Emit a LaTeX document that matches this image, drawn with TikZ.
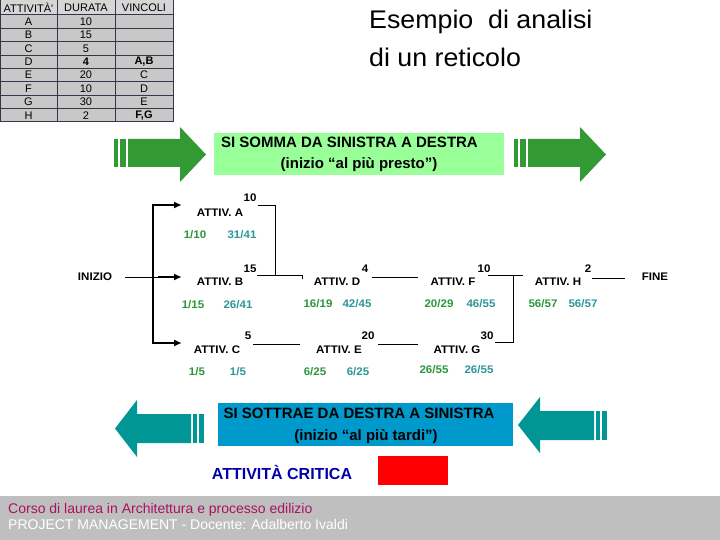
\documentclass[tikz,border=0pt]{standalone}
\usepackage{fontspec}
\setmainfont{Liberation Sans}
\newfontfamily\largo[FakeStretch=1.05]{Liberation Sans}
\usetikzlibrary{arrows.meta}
\definecolor{verdefreccia}{RGB}{51,153,51}
\definecolor{verdebox}{RGB}{153,255,153}
\definecolor{azzurro}{RGB}{0,153,204}
\definecolor{ottanio}{RGB}{0,150,150}
\definecolor{verdepresto}{RGB}{45,150,60}
\definecolor{verdetardi}{RGB}{45,150,150}
\definecolor{bordo}{RGB}{50,55,75}
\definecolor{grigiocella}{RGB}{200,200,200}
\definecolor{testata}{RGB}{214,214,214}
\definecolor{grigiopiede}{RGB}{191,191,191}
\definecolor{corso}{RGB}{170,17,100}
\definecolor{critico}{RGB}{0,0,170}

\begin{document}
\begin{tikzpicture}[x=1pt,y=-1pt,
  attiv/.style={font=\largo\bfseries\fontsize{11}{13}\selectfont,inner sep=0pt},
  durata/.style={attiv},
  presto/.style={attiv,text=verdepresto},
  tardi/.style={attiv,text=verdetardi},
  link/.style={draw,line width=0.9pt},
  forca/.style={line width=2pt,line join=miter},
  cella/.style={font=\fontsize{11}{13}\selectfont,inner sep=0pt},
  cellab/.style={font=\bfseries\fontsize{11}{13}\selectfont,inner sep=0pt},
  griglia/.style={draw=bordo,line width=1pt},
  scritta/.style={font=\bfseries\fontsize{15}{17}\selectfont,inner sep=0pt},
  piede/.style={font=\fontsize{14}{16}\selectfont,inner sep=0pt,anchor=west}]
 \fill[white] (0,0) rectangle (720,540);
 \useasboundingbox (0,0) rectangle (720,540);

 % tabella
 \fill[testata] (0,0) rectangle (173,15);
 \fill[grigiocella] (0,15) rectangle (173,122);
 \draw[griglia] (0,0) rectangle (173,122)
  (57,0) -- (57,122) (115,0) -- (115,122)
  (0,15) -- (173,15) (0,28.4) -- (173,28.4) (0,41.75) -- (173,41.75)
  (0,55.1) -- (173,55.1) (0,68.5) -- (173,68.5) (0,81.9) -- (173,81.9)
  (0,95.25) -- (173,95.25) (0,108.6) -- (173,108.6);
 \node (h1) at (28.5,7.5) [cella] {ATTIVIT\`A\textquotesingle};
 \node (h2) at (86,7.5) [cella] {DURATA};
 \node (h3) at (144,7.5) [cella] {VINCOLI};
 \node (attA) at (28.5,21.7) [cella] {A};
 \node (durA) at (86,21.7) [cella] {10};
 \node (attB) at (28.5,35.1) [cella] {B};
 \node (durB) at (86,35.1) [cella] {15};
 \node (attC) at (28.5,48.4) [cella] {C};
 \node (durC) at (86,48.4) [cella] {5};
 \node (attD) at (28.5,61.8) [cella] {D};
 \node (durD) at (86,61.8) [cellab] {4};
 \node (vinD) at (144,61.8) [cellab] {A,B};
 \node (attE) at (28.5,75.2) [cella] {E};
 \node (durE) at (86,75.2) [cella] {20};
 \node (vinE) at (144,75.2) [cella] {C};
 \node (attF) at (28.5,88.6) [cella] {F};
 \node (durF) at (86,88.6) [cella] {10};
 \node (vinF) at (144,88.6) [cella] {D};
 \node (attG) at (28.5,101.9) [cella] {G};
 \node (durG) at (86,101.9) [cella] {30};
 \node (vinG) at (144,101.9) [cella] {E};
 \node (attH) at (28.5,115.3) [cella] {H};
 \node (durH) at (86,115.3) [cella] {2};
 \node (vinH) at (144,115.3) [cellab] {F,G};

 % titolo
 \node (titolo1) at (369,22) [anchor=west,inner sep=0pt,font=\largo\fontsize{25.5}{29}\selectfont] {Esempio\ \ di analisi};
 \node (titolo2) at (369,57) [anchor=west,inner sep=0pt,font=\largo\fontsize{25.5}{29}\selectfont] {di un reticolo};

 % frecce verdi e riquadro
 \fill[verdefreccia] (114,139) rectangle (118,167);
 \fill[verdefreccia] (120,139) rectangle (126,167);
 \fill[verdefreccia] (128,139) -- (180,139) -- (180,127) -- (206,154.5) -- (180,182) -- (180,167) -- (128,167) -- cycle;
 \fill[verdefreccia] (514,139) rectangle (518,167);
 \fill[verdefreccia] (520,139) rectangle (526,167);
 \fill[verdefreccia] (528,139) -- (580,139) -- (580,127) -- (606,154.5) -- (580,182) -- (580,167) -- (528,167) -- cycle;
 \fill[verdebox] (214,133) rectangle (504,175);
 \node (somma1) at (349.5,142) [scritta] {SI SOMMA DA SINISTRA A DESTRA};
 \node (somma2) at (359,165) [scritta] {(inizio “al più presto”)};

 % reticolo
 \node (inizio) at (95,277) [attiv] {INIZIO};
 \node (a) at (220,213) [attiv] {ATTIV. A};
 \node (da) at (250,198) [durata] {10};
 \node (ea) at (195,235) [presto] {1/10};
 \node (la) at (242,235) [tardi] {31/41};
 \node (b) at (220,282) [attiv] {ATTIV. B};
 \node (db) at (250,269) [durata] {15};
 \node (eb) at (193,305) [presto] {1/15};
 \node (lb) at (238,305) [tardi] {26/41};
 \node (c) at (217,350) [attiv] {ATTIV. C};
 \node (dc) at (248,336) [durata] {5};
 \node (ec) at (197,372) [presto] {1/5};
 \node (lc) at (238,372) [tardi] {1/5};
 \node (d) at (337,282) [attiv] {ATTIV. D};
 \node (dd) at (365,269) [durata] {4};
 \node (ed) at (318,304) [presto] {16/19};
 \node (ld) at (357,304) [tardi] {42/45};
 \node (e) at (339,350) [attiv] {ATTIV. E};
 \node (de) at (368,336) [durata] {20};
 \node (ee) at (315,372) [presto] {6/25};
 \node (le) at (358,372) [tardi] {6/25};
 \node (f) at (453,282) [attiv] {ATTIV. F};
 \node (df) at (484,269) [durata] {10};
 \node (ef) at (439,304) [presto] {20/29};
 \node (lf) at (481,304) [tardi] {46/55};
 \node (g) at (457,350) [attiv] {ATTIV. G};
 \node (dg) at (487,336) [durata] {30};
 \node (eg) at (434,370) [presto] {26/55};
 \node (lg) at (479,370) [tardi] {26/55};
 \node (h) at (558,282) [attiv] {ATTIV. H};
 \node (dh) at (588,269) [durata] {2};
 \node (eh) at (543,304) [presto] {56/57};
 \node (lh) at (583,304) [tardi] {56/57};
 \node (fine) at (655,277) [attiv] {FINE};

 \coordinate (i0) at (125,277);
 \coordinate (k1) at (153,205);
 \coordinate (k2) at (158,277);
 \coordinate (k3) at (153,343);
 \coordinate (ta) at (182,205);
 \coordinate (tb) at (182,277);
 \coordinate (tc) at (182,343);
 \draw[line width=0.9pt] (i0) -- (k2);
 \draw[forca,{Latex[length=8pt,width=7pt]}-{Latex[length=8pt,width=7pt]}] (ta) -- (k1) -- (k3) -- (tc);
 \draw[forca,-{Latex[length=8pt,width=7pt]}] (k2) -- (tb);

 \coordinate (a0) at (258,205);
 \coordinate (jb) at (275,275);
 \coordinate (b0) at (257,275);
 \coordinate (b1) at (302,279);
 \coordinate (c0) at (253,344);
 \coordinate (c1) at (300,344);
 \coordinate (d0) at (372,277);
 \coordinate (d1) at (418,277);
 \coordinate (e0) at (378,344);
 \coordinate (e1) at (418,344);
 \coordinate (f0) at (488,275);
 \coordinate (f1) at (523,275);
 \coordinate (fj) at (513,275);
 \coordinate (g0) at (495,342);
 \coordinate (h0) at (592,278);
 \coordinate (h1) at (625,278);
 \draw[link] (a0) -| (jb);
 \draw[link] (b0) -| (b1);
 \draw[link] (c0) -- (c1);
 \draw[link] (d0) -- (d1);
 \draw[link] (e0) -- (e1);
 \draw[link] (f0) -- (f1);
 \draw[link] (g0) -| (fj);
 \draw[link] (h0) -- (h1);

 % frecce ottanio e riquadro
 \fill[ottanio] (115,428.5) -- (137,400) -- (137,414) -- (191,414) -- (191,443) -- (137,443) -- (137,457) -- cycle;
 \fill[ottanio] (193,414) rectangle (197,443);
 \fill[ottanio] (199,414) rectangle (204,443);
 \fill[ottanio] (518,425) -- (540,397) -- (540,411) -- (594,411) -- (594,440) -- (540,440) -- (540,453) -- cycle;
 \fill[ottanio] (596,411) rectangle (600,440);
 \fill[ottanio] (602,411) rectangle (607,440);
 \fill[azzurro] (218,403) rectangle (513,446);
 \node (sottrae1) at (359,413) [scritta] {SI SOTTRAE DA DESTRA A SINISTRA};
 \node (sottrae2) at (366,437) [scritta] {(inizio “al più tardi”)};

 \node (critica) at (282,472) [scritta,font=\bfseries\fontsize{16}{18}\selectfont,text=critico] {ATTIVITÀ CRITICA};
 \fill[red] (378,456) rectangle (448,485);

 % piede
 \fill[grigiopiede] (0,496) rectangle (720,540);
 \node (corso) at (8,510) [piede,text=corso] {Corso di laurea in Architettura e processo edilizio};
 \node (docente) at (8,524) [piede,text=white] {PROJECT MANAGEMENT - Docente: Adalberto Ivaldi};
\end{tikzpicture}
\end{document}
